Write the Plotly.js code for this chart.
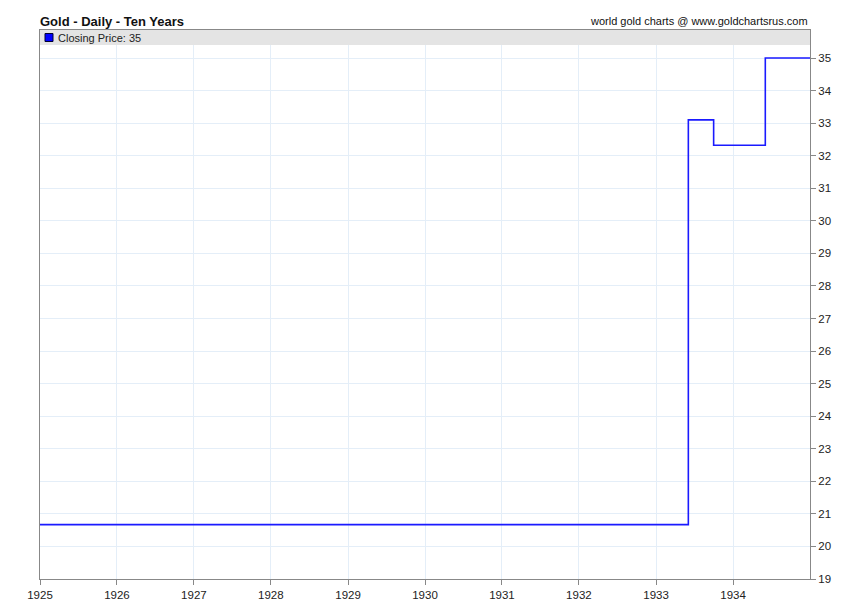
<!DOCTYPE html>
<html>
<head>
<meta charset="utf-8">
<script src="https://cdn.plot.ly/plotly-3.0.1.min.js"></script>
<style>
  html, body {margin: 0; padding: 0; background: #fff;}
  #chart {width: 850px; height: 616px;}
</style>
</head>
<body>
<div id="chart"></div>
<script>
// closing price steps (USD/oz)
const dates = ['1925-01-01', '1933-06-03', '1933-10-01', '1934-06-03', '1935-01-01'];
const prices = [20.67, 33.1, 32.32, 35, 35];
// year ticks shown on the x axis
const years = ['1925', '1926', '1927', '1928', '1929', '1930', '1931', '1932', '1933', '1934'];

const CHART_TITLE = 'Gold - Daily - Ten Years';
const SOURCE_TEXT = 'world gold charts @ www.goldchartsrus.com';
const LINE_COLOR = '#1a1aff';
const GRID_COLOR = '#e4eef8';
const AXIS_COLOR = '#888888';

let chart = document.getElementById('chart');

let trace = {
  x: dates,
  y: prices,
  mode: 'lines',
  line: {shape: 'hv', color: LINE_COLOR, width: 1.6},
  hoverinfo: 'x+y',
  showlegend: false
};

// band at top of plot area holding the legend (15px of 549px plot height)
const bandBottom = 1 - 15 / 549;

const layout = {
  width: 850,
  height: 616,
  margin: {l: 40, r: 40, t: 30, b: 37},
  paper_bgcolor: '#ffffff',
  plot_bgcolor: '#ffffff',
  font: {family: 'Liberation Sans, Arial, sans-serif', size: 11, color: '#222'},
  title: {
    text: '<b>' + CHART_TITLE + '</b>',
    font: {size: 13, color: '#111'},
    x: 40 / 850, xanchor: 'left', xref: 'container',
    y: 1 - 21 / 616, yanchor: 'middle', yref: 'container'
  },
  xaxis: {
    type: 'date',
    range: ['1925-01-01', '1935-01-01'],
    tickmode: 'array',
    tickvals: years.map((y) => y + '-01-01'),
    ticktext: years,
    ticks: 'outside', ticklen: 5, tickcolor: AXIS_COLOR,
    showgrid: true, gridcolor: GRID_COLOR, gridwidth: 1,
    showline: true, linecolor: AXIS_COLOR, linewidth: 1, mirror: true,
    zeroline: false,
    tickfont: {size: 11.5, color: '#222'}
  },
  yaxis: {
    side: 'right',
    range: [19, 35.86],
    dtick: 1,
    tick0: 19,
    ticks: 'outside', ticklen: 5, tickcolor: AXIS_COLOR,
    showgrid: true, gridcolor: GRID_COLOR, gridwidth: 1,
    showline: true, linecolor: AXIS_COLOR, linewidth: 1, mirror: true,
    zeroline: false,
    tickfont: {size: 11.5, color: '#222'}
  },
  shapes: [
    {
      type: 'rect', xref: 'paper', yref: 'paper', layer: 'above',
      x0: 0, x1: 1, y0: bandBottom, y1: 1,
      fillcolor: '#e4e4e4', line: {width: 0}
    },
    {
      // legend swatch
      type: 'rect', xref: 'paper', yref: 'paper', layer: 'above',
      x0: 5 / 770, x1: 13 / 770,
      y0: 1 - 11.5 / 549, y1: 1 - 3.5 / 549,
      fillcolor: '#0000ff', line: {color: '#000033', width: 1}
    }
  ],
  annotations: [
    {
      text: 'Closing Price: ' + prices[prices.length - 1],
      xref: 'paper', yref: 'paper',
      x: 16 / 770, y: 1 - 7.5 / 549,
      xanchor: 'left', yanchor: 'middle',
      showarrow: false,
      font: {size: 11, color: '#222'}
    },
    {
      text: SOURCE_TEXT,
      xref: 'paper', yref: 'paper',
      x: 1, y: 1, xanchor: 'right', yanchor: 'bottom', yshift: 1,
      showarrow: false,
      font: {size: 11, color: '#111'}
    }
  ]
};

Plotly.newPlot(chart, [trace], layout, {displayModeBar: false, staticPlot: true});
</script>
</body>
</html>
